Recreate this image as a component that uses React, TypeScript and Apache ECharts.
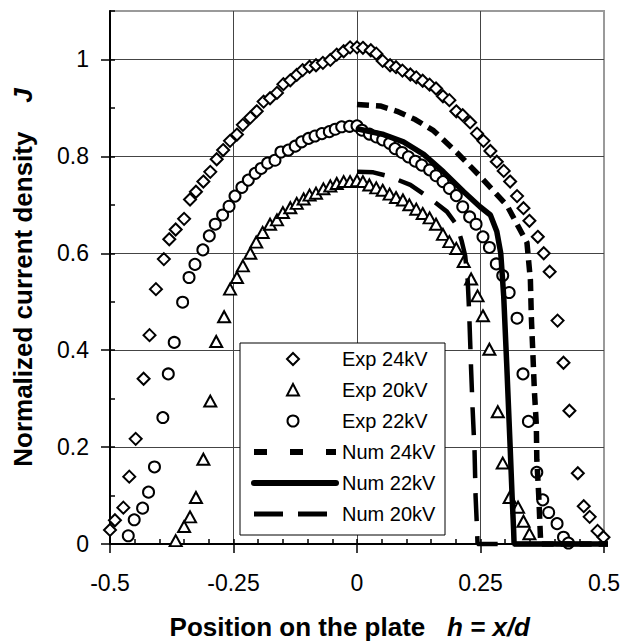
import React, { useEffect, useRef } from "react";
import * as echarts from "echarts";

// ---- Data (x = position h, y = normalized current density J) ----
const exp24kV: number[][] = [
  [-0.5, 0.029], [-0.49, 0.049], [-0.473, 0.075], [-0.461, 0.139], [-0.448, 0.217], [-0.432, 0.341],
  [-0.42, 0.431], [-0.407, 0.526], [-0.391, 0.588], [-0.38, 0.629], [-0.367, 0.649], [-0.35, 0.671],
  [-0.338, 0.711], [-0.326, 0.727], [-0.311, 0.748], [-0.297, 0.768], [-0.284, 0.794], [-0.271, 0.813],
  [-0.257, 0.832], [-0.243, 0.845], [-0.231, 0.865], [-0.216, 0.88], [-0.203, 0.893], [-0.189, 0.913],
  [-0.176, 0.92], [-0.162, 0.931], [-0.149, 0.949], [-0.135, 0.957], [-0.122, 0.968], [-0.11, 0.978],
  [-0.096, 0.985], [-0.083, 0.988], [-0.069, 0.993], [-0.054, 0.999], [-0.041, 1.01], [-0.027, 1.017],
  [-0.014, 1.025], [0.0, 1.025], [0.012, 1.024], [0.028, 1.019], [0.039, 1.012], [0.052, 0.997],
  [0.067, 0.988], [0.079, 0.984], [0.092, 0.977], [0.108, 0.969], [0.12, 0.963], [0.133, 0.956],
  [0.147, 0.948], [0.16, 0.94], [0.174, 0.924], [0.187, 0.916], [0.201, 0.893], [0.214, 0.885],
  [0.229, 0.87], [0.243, 0.847], [0.256, 0.832], [0.27, 0.811], [0.283, 0.789], [0.297, 0.77],
  [0.31, 0.748], [0.324, 0.718], [0.337, 0.693], [0.349, 0.667], [0.366, 0.634], [0.378, 0.6],
  [0.39, 0.562], [0.406, 0.461], [0.418, 0.374], [0.43, 0.275], [0.447, 0.146], [0.459, 0.078],
  [0.471, 0.056], [0.487, 0.027], [0.499, 0.014],
];

const exp20kV: number[][] = [
  [-0.367, 0.007], [-0.35, 0.036], [-0.338, 0.056], [-0.326, 0.096], [-0.311, 0.175], [-0.297, 0.295],
  [-0.285, 0.418], [-0.269, 0.469], [-0.257, 0.526], [-0.243, 0.55], [-0.231, 0.574], [-0.216, 0.6],
  [-0.204, 0.623], [-0.191, 0.643], [-0.176, 0.66], [-0.162, 0.669], [-0.15, 0.684], [-0.135, 0.694],
  [-0.122, 0.703], [-0.108, 0.712], [-0.096, 0.72], [-0.083, 0.724], [-0.068, 0.733], [-0.054, 0.739],
  [-0.041, 0.744], [-0.027, 0.748], [-0.014, 0.748], [0.0, 0.75], [0.012, 0.748], [0.025, 0.741],
  [0.039, 0.735], [0.052, 0.73], [0.066, 0.722], [0.079, 0.715], [0.093, 0.71], [0.106, 0.7],
  [0.12, 0.691], [0.133, 0.682], [0.147, 0.673], [0.16, 0.66], [0.174, 0.639], [0.187, 0.624],
  [0.201, 0.61], [0.216, 0.583], [0.231, 0.547], [0.244, 0.512], [0.255, 0.471], [0.268, 0.402],
  [0.285, 0.273], [0.295, 0.167], [0.309, 0.096], [0.326, 0.076], [0.337, 0.047], [0.349, 0.021],
];

const exp22kV: number[][] = [
  [-0.463, 0.017], [-0.451, 0.05], [-0.434, 0.074], [-0.422, 0.107], [-0.41, 0.159], [-0.393, 0.261],
  [-0.382, 0.351], [-0.37, 0.416], [-0.353, 0.499], [-0.34, 0.55], [-0.328, 0.577], [-0.312, 0.607],
  [-0.299, 0.636], [-0.287, 0.66], [-0.272, 0.679], [-0.259, 0.697], [-0.247, 0.718], [-0.233, 0.736],
  [-0.22, 0.751], [-0.206, 0.765], [-0.194, 0.775], [-0.181, 0.786], [-0.166, 0.792], [-0.154, 0.809],
  [-0.139, 0.813], [-0.125, 0.821], [-0.112, 0.83], [-0.098, 0.837], [-0.085, 0.842], [-0.071, 0.847],
  [-0.056, 0.851], [-0.044, 0.856], [-0.031, 0.861], [-0.015, 0.862], [0.0, 0.863], [0.01, 0.854],
  [0.025, 0.846], [0.039, 0.84], [0.052, 0.834], [0.066, 0.827], [0.077, 0.816], [0.091, 0.808],
  [0.104, 0.799], [0.118, 0.79], [0.131, 0.782], [0.147, 0.772], [0.16, 0.76], [0.174, 0.748],
  [0.187, 0.734], [0.201, 0.719], [0.214, 0.696], [0.228, 0.675], [0.241, 0.66], [0.255, 0.634],
  [0.268, 0.612], [0.282, 0.578], [0.295, 0.554], [0.308, 0.519], [0.324, 0.466], [0.336, 0.351],
  [0.347, 0.253], [0.364, 0.148], [0.376, 0.091], [0.388, 0.065], [0.405, 0.042], [0.418, 0.014],
  [0.428, 0.002],
];

const num24kV: number[][] = [
  [0.0, 0.907], [0.047, 0.904], [0.081, 0.893], [0.118, 0.876], [0.155, 0.853], [0.202, 0.808],
  [0.249, 0.759], [0.304, 0.698], [0.344, 0.622], [0.351, 0.545], [0.353, 0.466], [0.356, 0.394],
  [0.359, 0.318], [0.363, 0.246], [0.364, 0.174], [0.368, 0.098], [0.371, 0.023], [0.372, 0.0],
  [0.52, 0.0],
];

const num22kV: number[][] = [
  [0.0, 0.857], [0.054, 0.845], [0.094, 0.83], [0.135, 0.804], [0.175, 0.768], [0.216, 0.727],
  [0.249, 0.696], [0.27, 0.679], [0.283, 0.645], [0.291, 0.6], [0.297, 0.511], [0.303, 0.373],
  [0.31, 0.201], [0.314, 0.098], [0.317, 0.03], [0.318, 0.0], [0.52, 0.0],
];

const num20kV: number[][] = [
  [0.0, 0.768], [0.033, 0.767], [0.067, 0.758], [0.108, 0.741], [0.148, 0.713], [0.182, 0.686],
  [0.202, 0.658], [0.212, 0.625], [0.219, 0.595], [0.224, 0.545], [0.227, 0.48], [0.229, 0.42],
  [0.231, 0.36], [0.234, 0.28], [0.238, 0.19], [0.24, 0.1], [0.243, 0.03], [0.244, 0.0], [0.52, 0.0],
];

const seriesNames = ["Exp 24kV", "Exp 20kV", "Exp 22kV", "Num 24kV", "Num 22kV", "Num 20kV"];
const xTickLabels = ["-0.5", "-0.25", "0", "0.25", "0.5"];
const yTickLabels = ["0", "0.2", "0.4", "0.6", "0.8", "1"];

const FONT = "'Liberation Sans', Arial, Helvetica, sans-serif";

export default function App() {
  const ref = useRef<HTMLDivElement>(null);

  useEffect(() => {
    if (!ref.current) return;
    const chart = echarts.init(ref.current, undefined, { renderer: "svg" });

    const markerStyle = { color: "#fff", borderColor: "#000", borderWidth: 2, opacity: 1 };

    // legend (drawn as graphic)
    const lx0 = 240, ly0 = 343, lw = 205, lh = 192;
    const symX = 293, lineX1 = 254, lineX2 = 336, textX = 342;
    const rowY = (i: number) => 359 + i * 31;
    const Z = 100;
    const legendChildren: any[] = [
      { type: "rect", z: Z, shape: { x: lx0, y: ly0, width: lw, height: lh }, style: { fill: "#fff", stroke: "#000", lineWidth: 1 } },
      {
        type: "polygon",
        z: Z + 1,
        shape: { points: [[symX, rowY(0) - 6], [symX + 6, rowY(0)], [symX, rowY(0) + 6], [symX - 6, rowY(0)]] },
        style: { fill: "#fff", stroke: "#000", lineWidth: 2 },
      },
      {
        type: "polygon",
        z: Z + 1,
        shape: { points: [[symX, rowY(1) - 6], [symX + 6, rowY(1) + 5.5], [symX - 6, rowY(1) + 5.5]] },
        style: { fill: "#fff", stroke: "#000", lineWidth: 2 },
      },
      { type: "circle", z: Z + 1, shape: { cx: symX, cy: rowY(2), r: 5.5 }, style: { fill: "#fff", stroke: "#000", lineWidth: 2 } },
      {
        type: "line",
        z: Z + 1,
        shape: { x1: lineX1, y1: rowY(3), x2: lineX2, y2: rowY(3) },
        style: { stroke: "#000", lineWidth: 6, lineDash: [13, 23] },
      },
      {
        type: "line",
        z: Z + 1,
        shape: { x1: lineX1, y1: rowY(4), x2: lineX2, y2: rowY(4) },
        style: { stroke: "#000", lineWidth: 6, lineCap: "round" },
      },
      {
        type: "line",
        z: Z + 1,
        shape: { x1: lineX1, y1: rowY(5), x2: lineX2 - 9, y2: rowY(5) },
        style: { stroke: "#000", lineWidth: 5, lineDash: [29, 15] },
      },
    ];
    seriesNames.forEach((n, i) => {
      legendChildren.push({
        type: "text",
        z: Z + 1,
        x: textX,
        y: rowY(i),
        style: { text: n, fill: "#000", font: `20px ${FONT}`, verticalAlign: "middle", align: "left" },
      });
    });

    const titleStyle = {
      fontSize: 26,
      fontWeight: "bold",
      color: "#000",
      fontFamily: FONT,
      rich: { i: { fontSize: 26, fontWeight: "bold", fontStyle: "italic", color: "#000", fontFamily: FONT } },
    };

    const option: any = {
      animation: false,
      backgroundColor: "#fff",
      textStyle: { fontFamily: FONT },
      grid: {
        left: 110,
        right: 19,
        top: 11,
        bottom: 99,
        show: true,
        borderColor: "#9a9a9a",
        borderWidth: 2,
        backgroundColor: "transparent",
        containLabel: false,
        outerBoundsMode: "none",
      },
      xAxis: [
        {
          type: "value",
          min: -0.5,
          max: 0.5,
          interval: 0.25,
          position: "bottom",
          axisLine: { show: true, onZero: false, lineStyle: { color: "#000", width: 2 } },
          axisTick: { show: true, inside: false, length: 9, lineStyle: { color: "#000", width: 1.5 } },
          axisLabel: {
            margin: 27,
            fontSize: 23,
            color: "#000",
            fontFamily: FONT,
            formatter: (v: number) => {
              const idx = Math.round((v + 0.5) / 0.25);
              return xTickLabels[idx] ?? "";
            },
          },
          splitLine: { show: true, showMinLine: false, showMaxLine: false, lineStyle: { color: "#444", width: 1 } },
          name: "Position on the plate   {i|h = x/d}  ",
          nameLocation: "middle",
          nameGap: 70,
          nameTextStyle: titleStyle,
        },
        {
          type: "value",
          min: -0.5,
          max: 0.5,
          interval: 0.05,
          position: "bottom",
          axisLine: { show: false, onZero: false },
          axisTick: { show: true, inside: true, length: 5, lineStyle: { color: "#000", width: 1.5 } },
          axisLabel: { show: false },
          splitLine: { show: false },
        },
      ],
      yAxis: [
        {
          type: "value",
          min: 0,
          max: 1.1,
          interval: 0.2,
          position: "left",
          axisLine: { show: true, onZero: false, lineStyle: { color: "#000", width: 2 } },
          axisTick: { show: true, inside: false, length: 9, lineStyle: { color: "#000", width: 1.5 } },
          axisLabel: {
            margin: 21,
            fontSize: 23,
            color: "#000",
            fontFamily: FONT,
            showMaxLabel: false,
            formatter: (v: number) => {
              if (v > 1.05) return "";
              const idx = Math.round(v / 0.2);
              return yTickLabels[idx] ?? "";
            },
          },
          splitLine: { show: true, showMinLine: false, showMaxLine: false, lineStyle: { color: "#444", width: 1 } },
          name: "Normalized current density    {i|J}",
          nameLocation: "middle",
          nameGap: 74,
          nameTextStyle: titleStyle,
        },
        {
          type: "value",
          min: 0,
          max: 1.1,
          interval: 0.1,
          position: "left",
          axisLine: { show: false, onZero: false },
          axisTick: { show: true, inside: true, length: 5, lineStyle: { color: "#000", width: 1.5 } },
          axisLabel: { show: false },
          splitLine: { show: false },
        },
      ],
      series: [
        {
          name: seriesNames[0],
          type: "scatter",
          symbol: "diamond",
          symbolSize: [12, 12],
          itemStyle: markerStyle,
          data: exp24kV,
          z: 3,
        },
        {
          name: seriesNames[1],
          type: "scatter",
          symbol: "triangle",
          symbolSize: [12, 11],
          itemStyle: markerStyle,
          data: exp20kV,
          z: 3,
        },
        {
          name: seriesNames[2],
          type: "scatter",
          symbol: "circle",
          symbolSize: 11,
          itemStyle: markerStyle,
          data: exp22kV,
          z: 3,
        },
        {
          name: seriesNames[3],
          type: "line",
          data: num24kV,
          showSymbol: false,
          symbol: "none",
          clip: false,
          lineStyle: { color: "#000", width: 5.5, type: [12, 7] },
          z: 4,
        },
        {
          name: seriesNames[4],
          type: "line",
          data: num22kV,
          showSymbol: false,
          symbol: "none",
          clip: false,
          lineStyle: { color: "#000", width: 5.5 },
          z: 4,
        },
        {
          name: seriesNames[5],
          type: "line",
          data: num20kV,
          showSymbol: false,
          symbol: "none",
          clip: false,
          lineStyle: { color: "#000", width: 4.5, type: [28, 15] },
          z: 4,
        },
      ],
      graphic: [{ type: "group", z: Z, children: legendChildren }],
    };

    chart.setOption(option);
    return () => {
      chart.dispose();
    };
  }, []);

  return (
    <div
      ref={ref}
      style={{ position: "fixed", left: 0, top: 0, width: 623, height: 643, background: "#fff" }}
    />
  );
}
